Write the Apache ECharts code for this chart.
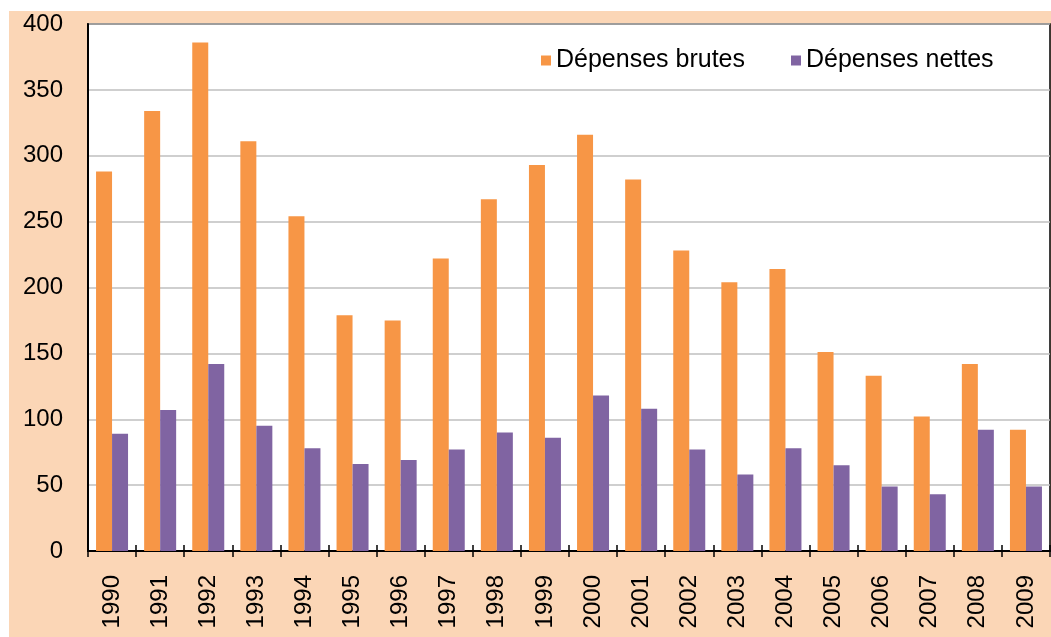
<!DOCTYPE html>
<html>
<head>
<meta charset="utf-8">
<script src="https://cdn.jsdelivr.net/npm/echarts@6/dist/echarts.min.js"></script>
<style>
  html, body { margin: 0; padding: 0; background: #fff; }
  #chart { position: absolute; left: 9px; top: 11px; width: 1042px; height: 626px; }
</style>
</head>
<body>
<div id="chart"></div>
<script>
// années
var annees = ['1990', '1991', '1992', '1993', '1994', '1995', '1996', '1997', '1998', '1999',
              '2000', '2001', '2002', '2003', '2004', '2005', '2006', '2007', '2008', '2009'];
// dépenses brutes
var brutes = [288, 334, 386, 311, 254, 179, 175, 222, 267, 293,
              316, 282, 228, 204, 214, 151, 133, 102, 142, 92];
// dépenses nettes
var nettes = [89, 107, 142, 95, 78, 66, 69, 77, 90, 86,
              118, 108, 77, 58, 78, 65, 49, 43, 92, 49];

var police = 'Liberation Sans, Arial, sans-serif';

var myChart = echarts.init(document.getElementById('chart'));
myChart.setOption({
    backgroundColor: '#FBD6B6',
    animation: false,
    grid: {
        left: 79, top: 13, right: 1, bottom: 86,
        show: true,
        backgroundColor: '#fff',
        borderColor: '#000',
        borderWidth: 1.5
    },
    legend: {
        left: 527, top: 32,
        itemWidth: 10, itemHeight: 10,
        itemGap: 46,
        icon: 'rect',
        textStyle: { fontFamily: police, fontSize: 25, color: '#000' },
        data: ['Dépenses brutes', 'Dépenses nettes']
    },
    xAxis: [
        {
            type: 'category',
            data: annees,
            axisLine: { lineStyle: { color: '#000', width: 2 } },
            axisTick: { show: true, length: 6, lineStyle: { color: '#000', width: 1.5 } },
            axisLabel: { rotate: 90, margin: 24, fontFamily: police, fontSize: 24, color: '#000' }
        },
        {
            // ticks vers l'intérieur (traversent l'axe)
            type: 'category',
            data: annees,
            position: 'bottom',
            axisLine: { show: false },
            axisTick: { show: true, inside: true, length: 6, lineStyle: { color: '#000', width: 1.5 } },
            axisLabel: { show: false }
        }
    ],
    yAxis: {
        type: 'value',
        min: 0, max: 400, interval: 50,
        axisLine: { show: true, lineStyle: { color: '#000', width: 2 } },
        axisTick: { show: false },
        splitLine: { lineStyle: { color: '#BFBFBF', width: 1.5 } },
        axisLabel: { margin: 25, fontFamily: police, fontSize: 24, color: '#000' }
    },
    series: [
        {
            name: 'Dépenses brutes', type: 'bar', data: brutes,
            barWidth: 16, barGap: '0%',
            itemStyle: { color: '#F79646' }
        },
        {
            name: 'Dépenses nettes', type: 'bar', data: nettes,
            barWidth: 16,
            itemStyle: { color: '#8064A2' }
        }
    ]
});
</script>
</body>
</html>
